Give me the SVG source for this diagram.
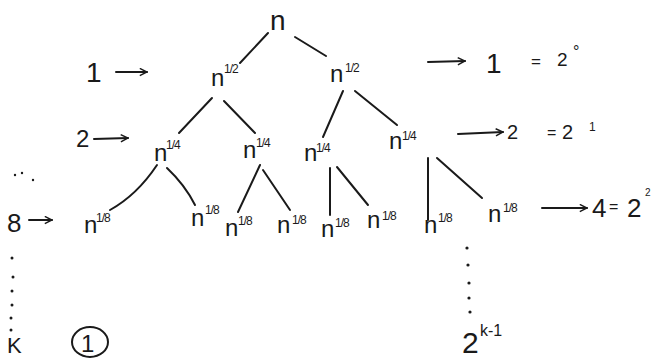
<svg xmlns="http://www.w3.org/2000/svg" width="653" height="359" viewBox="0 0 653 359">
<defs>
<marker id="ah" viewBox="0 0 10 10" refX="9" refY="5" markerWidth="9" markerHeight="9" markerUnits="userSpaceOnUse" orient="auto">
<path d="M1,1 L9,5 L1,9" fill="none" stroke="#1a1a1a" stroke-width="1.6"/>
</marker>
<style>
.t{font-family:"Liberation Sans","DejaVu Sans",sans-serif;fill:#1a1a1a}
.n{font-size:24px}
.s{font-size:12px;letter-spacing:-1px}
.e{fill:none;stroke:#1a1a1a;stroke-width:2;stroke-linecap:round}
.a{fill:none;stroke:#1a1a1a;stroke-width:2;stroke-linecap:round}
.d{fill:#1a1a1a}
</style>
</defs>
<rect width="653" height="359" fill="#ffffff"/>

<g id="connectors">
<path class="e" d="M268,33 L240,63"/>
<path class="e" d="M295,37 L326,56"/>
<path class="e" d="M212,98 L179,133"/>
<path class="e" d="M224,101 L255,133"/>
<path class="e" d="M343,91 L323,137"/>
<path class="e" d="M355,91 L397,125"/>
<path class="e" d="M157,165 Q137,195 110,210"/>
<path class="e" d="M167,168 Q185,185 195,205"/>
<path class="e" d="M260,165 L238,212"/>
<path class="e" d="M263,170 L290,210"/>
<path class="e" d="M330,168 L330,215"/>
<path class="e" d="M337,167 L368,205"/>
<path class="e" d="M428,158 L428,220"/>
<path class="e" d="M437,158 L482,198"/>
</g>

<g id="root"><text class="t" x="270" y="30" font-size="28">n</text></g>

<g id="l1a"><text class="t n" x="211" y="86">n</text><text class="t s" x="224" y="73">1/2</text></g>
<g id="l1b"><text class="t n" x="330" y="82">n</text><text class="t s" x="345" y="72">1/2</text></g>

<g id="l2a"><text class="t n" x="154" y="161">n</text><text class="t s" x="166" y="149">1/4</text></g>
<g id="l2b"><text class="t n" x="243" y="158">n</text><text class="t s" x="256" y="147">1/4</text></g>
<g id="l2c"><text class="t n" x="304" y="161">n</text><text class="t s" x="316" y="152">1/4</text></g>
<g id="l2d"><text class="t n" x="389" y="149">n</text><text class="t s" x="402" y="140">1/4</text></g>

<g id="l3a"><text class="t n" x="84" y="233">n</text><text class="t s" x="96" y="222">1/8</text></g>
<g id="l3b"><text class="t n" x="191" y="226">n</text><text class="t s" x="205" y="214">1/8</text></g>
<g id="l3c"><text class="t n" x="225" y="236">n</text><text class="t s" x="238" y="225">1/8</text></g>
<g id="l3d"><text class="t n" x="277" y="233">n</text><text class="t s" x="292" y="224">1/8</text></g>
<g id="l3e"><text class="t n" x="321" y="237">n</text><text class="t s" x="335" y="227">1/8</text></g>
<g id="l3f"><text class="t n" x="367" y="228">n</text><text class="t s" x="382" y="220">1/8</text></g>
<g id="l3g"><text class="t n" x="424" y="233">n</text><text class="t s" x="438" y="222">1/8</text></g>
<g id="l3h"><text class="t n" x="488" y="222">n</text><text class="t s" x="503" y="212">1/8</text></g>

<g id="label-left">
<text class="t" x="86" y="82" font-size="28">1</text>
<path class="a" d="M116,72 L147,72" marker-end="url(#ah)"/>
<text class="t" x="76" y="147" font-size="24">2</text>
<path class="a" d="M94,139 L128,138" marker-end="url(#ah)"/>
<text class="t" x="7" y="232" font-size="26">8</text>
<path class="a" d="M29,220 L52,220" marker-end="url(#ah)"/>
<text class="t" x="7" y="353" font-size="22">K</text>
<ellipse cx="90" cy="342" rx="18" ry="15" fill="none" stroke="#1a1a1a" stroke-width="2"/>
<text class="t" x="81" y="352" font-size="24">1</text>
</g>

<g id="label-right">
<path class="a" d="M428,62 L465,61" marker-end="url(#ah)"/>
<text class="t" x="486" y="73" font-size="28">1</text>
<text class="t" x="531" y="67" font-size="17">=</text>
<text class="t" x="557" y="66" font-size="19">2</text>
<text class="t" x="573" y="57" font-size="16">°</text>
<path class="a" d="M458,134 L503,132" marker-end="url(#ah)"/>
<text class="t" x="507" y="139" font-size="20">2</text>
<text class="t" x="547" y="138" font-size="16">=</text>
<text class="t" x="562" y="139" font-size="20">2</text>
<text class="t" x="589" y="131" font-size="12">1</text>
<path class="a" d="M542,208 L587,208" marker-end="url(#ah)"/>
<text class="t" x="592" y="217" font-size="26">4</text>
<text class="t" x="609" y="212" font-size="16">=</text>
<text class="t" x="627" y="217" font-size="26">2</text>
<text class="t" x="645" y="196" font-size="10">2</text>
<text class="t" x="462" y="353" font-size="30">2</text>
<text class="t" x="480" y="336" font-size="16">k-1</text>
</g>

<g id="dots">
<circle class="d" cx="12" cy="258" r="1.5"/>
<circle class="d" cx="13" cy="277" r="1.5"/>
<circle class="d" cx="12" cy="291" r="1.5"/>
<circle class="d" cx="12" cy="305" r="1.5"/>
<circle class="d" cx="11" cy="318" r="1.5"/>
<circle class="d" cx="11" cy="330" r="1.5"/>
<circle class="d" cx="15" cy="175" r="1.2"/>
<circle class="d" cx="22" cy="173" r="1.2"/>
<circle class="d" cx="33" cy="180" r="1.2"/>
<circle class="d" cx="467" cy="248" r="1.6"/>
<circle class="d" cx="468" cy="265" r="1.6"/>
<circle class="d" cx="469" cy="283" r="1.6"/>
<circle class="d" cx="469" cy="298" r="1.6"/>
<circle class="d" cx="470" cy="312" r="1.6"/>
</g>
</svg>
